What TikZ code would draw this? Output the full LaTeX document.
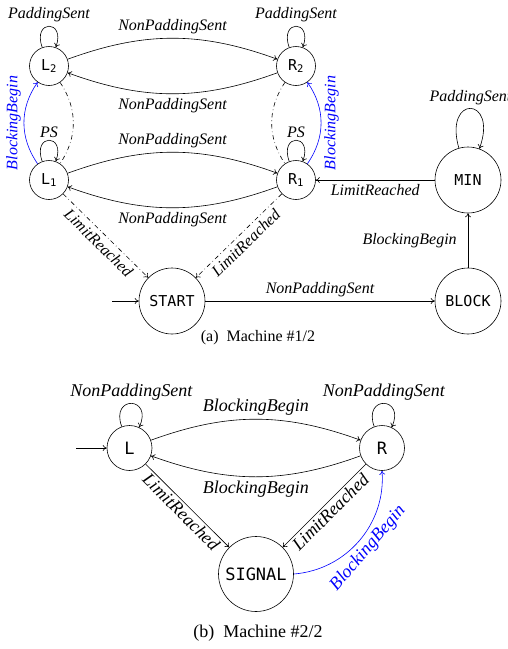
\documentclass[tikz,border=0pt]{standalone}
\usepackage{fontspec}
\setmainfont{Liberation Serif}
\setmonofont{DejaVu Sans Mono}
\usetikzlibrary{arrows.meta}
\begin{document}
\begin{tikzpicture}[x=1pt,y=1pt,
  line width=0.6pt,
  st/.style={circle,draw,minimum size=#1,inner sep=0pt,font=\fontsize{15}{18}\selectfont\ttfamily},
  stb/.style={circle,draw,minimum size=#1,inner sep=0pt,font=\fontsize{17}{20}\selectfont\ttfamily},
  lab/.style={font=\fontsize{16}{19}\selectfont\itshape,inner sep=1pt},
  labb/.style={font=\fontsize{18}{21}\selectfont\itshape,inner sep=1pt},
  ed/.style={-{To[length=4pt,width=6pt]}},
  dd/.style={dash pattern=on 4.5pt off 3pt on 0.6pt off 3pt},
]
\useasboundingbox (0,0) rectangle (508,-649);

% ---------- part (a)
\node[st=39pt] (L2) at (49,-66) {L\textsubscript{2}};
\node[st=39pt] (R2) at (296,-66) {R\textsubscript{2}};
\node[st=39pt] (L1) at (49,-180) {L\textsubscript{1}};
\node[st=39pt] (R1) at (296,-180) {R\textsubscript{1}};
\node[st=66pt] (MIN) at (468,-180) {MIN};
\node[st=66pt] (START) at (172,-301) {START};
\node[st=66pt] (BLOCK) at (468,-301) {BLOCK};
\coordinate (ia) at (112,-301);

\draw[ed] (ia) -- (START);
\draw[ed] (L2) to[bend left=20] node[lab,above=3pt] {NonPaddingSent} (R2);
\draw[ed] (R2) to[bend left=20] node[lab,below=3pt] {NonPaddingSent} (L2);
\draw[ed] (L1) to[bend left=20] node[lab,above=3pt] {NonPaddingSent} (R1);
\draw[ed] (R1) to[bend left=20] node[lab,below=3pt] {NonPaddingSent} (L1);

\draw[ed] (L2) to[out=110,in=70,distance=30pt] node[lab,above=3pt] {PaddingSent} (L2);
\draw[ed] (R2) to[out=110,in=70,distance=30pt] node[lab,above=3pt] {PaddingSent} (R2);
\draw[ed] (L1) to[out=110,in=70,distance=30pt] node[lab,above=1pt] {PS} (L1);
\draw[ed] (R1) to[out=110,in=70,distance=30pt] node[lab,above=1pt] {PS} (R1);
\draw[ed] (MIN) to[out=106,in=70,distance=56pt] node[lab,above=2pt] {PaddingSent} (MIN);

\draw[ed,blue] (L1) to[bend left=35] node[lab,sloped,above=2pt] {BlockingBegin} (L2);
\draw[ed,blue] (R1) to[bend right=35] node[lab,sloped,below=2pt] {BlockingBegin} (R2);
\draw[dd] (L2) to[bend left=34] (L1);
\draw[dd] (R2) to[bend right=34] (R1);

\draw[ed,dd] (L1) -- node[lab,sloped,below=3pt] {LimitReached} (START);
\draw[ed,dd] (R1) -- node[lab,sloped,below=3pt] {LimitReached} (START);
\draw[ed] (MIN) -- node[lab,below=3pt] {LimitReached} (R1);
\draw[ed] (BLOCK) -- node[lab,left=10pt] {BlockingBegin} (MIN);
\draw[ed] (START) -- node[lab,above=3pt] {NonPaddingSent} (BLOCK);

\node[font=\fontsize{16}{19}\selectfont] (capa) at (258,-338) {(a)\enspace Machine \#1/2};

% ---------- part (b)
\node[stb=45pt] (L) at (129.5,-448) {L};
\node[stb=45pt] (R) at (382,-448) {R};
\node[stb=75pt] (SIG) at (256,-574) {SIGNAL};
\coordinate (ib) at (76,-448);

\draw[ed] (ib) -- (L);
\draw[ed] (L) to[bend left=20] node[labb,above=3pt] {BlockingBegin} (R);
\draw[ed] (R) to[bend left=20] node[labb,below=3pt] {BlockingBegin} (L);
\draw[ed] (L) to[out=110,in=65,distance=34pt] node[labb,above=2pt] {NonPaddingSent} (L);
\draw[ed] (R) to[out=110,in=65,distance=34pt] node[labb,above=2pt] {NonPaddingSent} (R);
\draw[ed] (L) -- node[labb,sloped,below=1pt] {LimitReached} (SIG);
\draw[ed] (R) -- node[labb,sloped,below=1pt] {LimitReached} (SIG);
\draw[ed,blue] (SIG) to[bend right=45] node[labb,sloped,below=2pt] {BlockingBegin} (R);

\node[font=\fontsize{18}{21}\selectfont] (capb) at (258,-633) {(b)\enspace Machine \#2/2};
\end{tikzpicture}
\end{document}
